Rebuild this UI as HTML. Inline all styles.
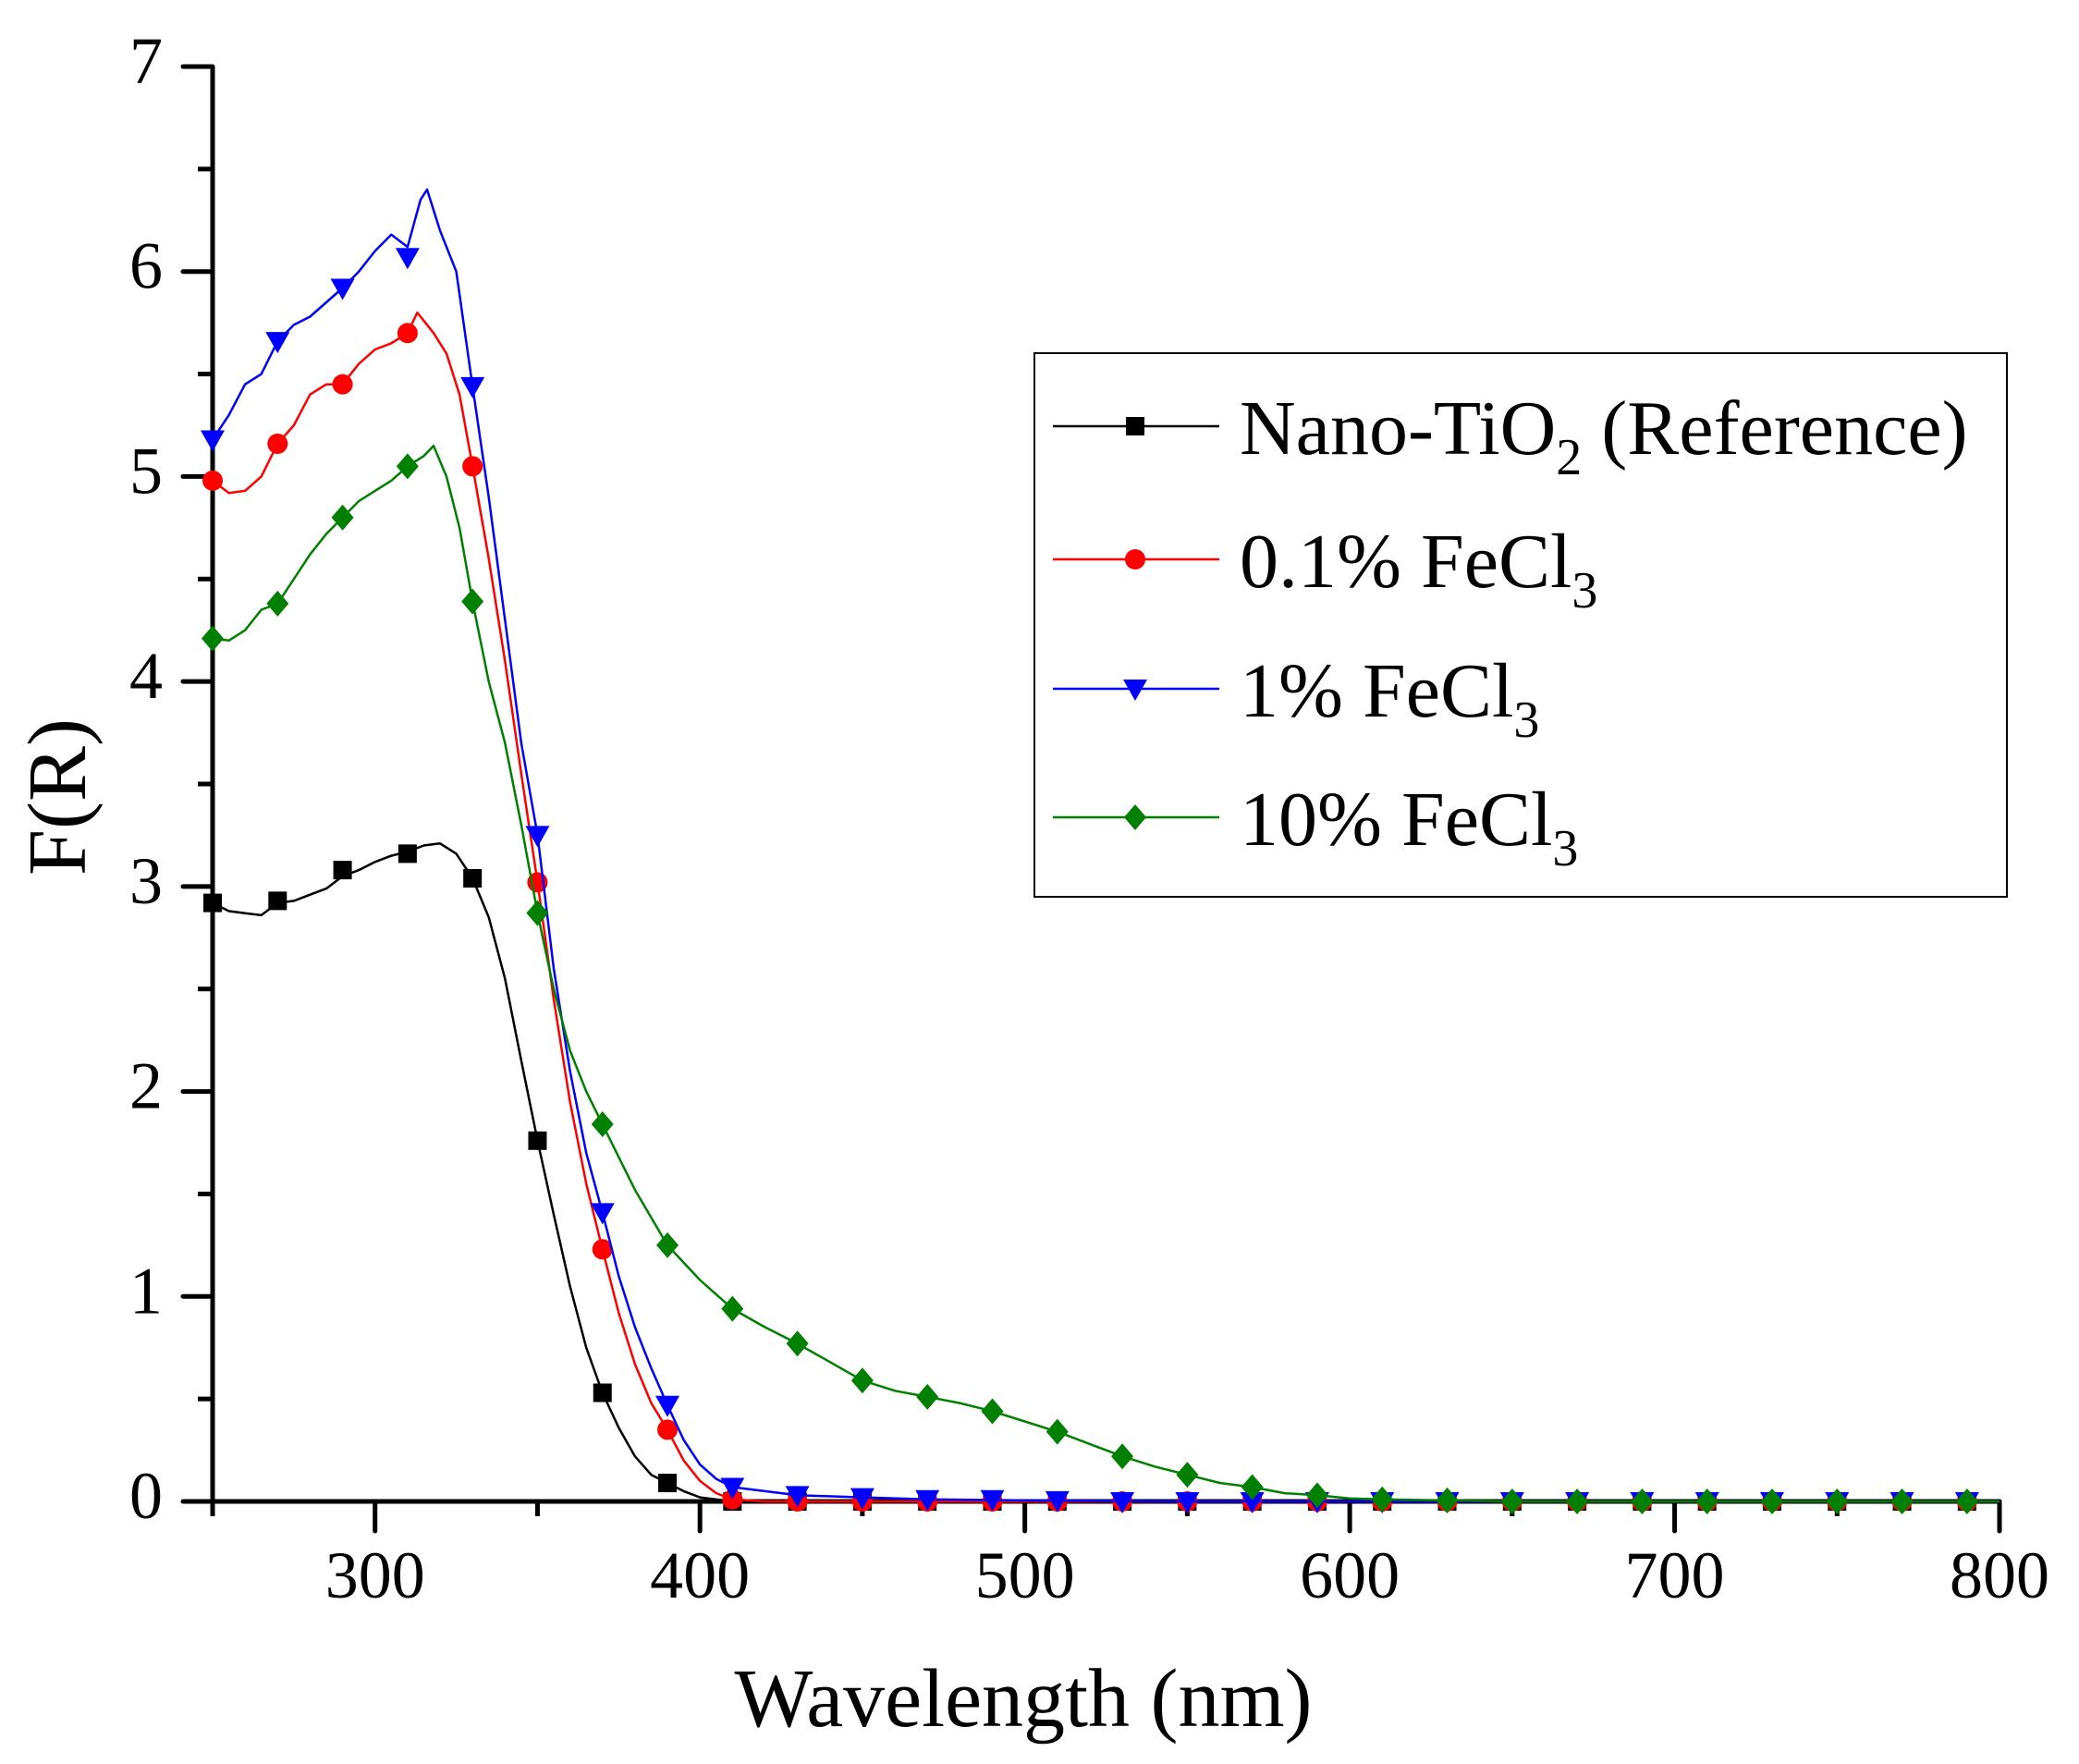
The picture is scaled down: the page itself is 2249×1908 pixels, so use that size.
<!DOCTYPE html>
<html><head><meta charset="utf-8"><style>
html,body{margin:0;padding:0;background:#fff}
svg{display:block}
text{font-family:"Liberation Serif",serif;fill:#000}
</style></head><body>
<svg id="chart" width="2249" height="1908" viewBox="0 0 2249 1908" xmlns="http://www.w3.org/2000/svg">
<g id="axes"></g>
<g id="series"></g>
<g id="legend">
<rect x="1119" y="382" width="1052" height="588" fill="#fff" stroke="#000" stroke-width="2"/>
</g>
<text x="1107" y="1867" font-size="90" text-anchor="middle">Wavelength (nm)</text>
<text transform="translate(92,862) rotate(-90)" font-size="90" text-anchor="middle">F(R)</text>
</svg>
<script>
const xTicks=[300,400,500,600,700,800];
const yTicks=[0,1,2,3,4,5,6,7];
const seriesNames=["Nano-TiO2 (Reference)","0.1% FeCl3","1% FeCl3","10% FeCl3"];
const markerX=[250,270,290,310,330,350,370,390,410,430,450,470,490,510,530,550,570,590,610,630,650,670,690,710,730,750,770,790];
const blackM=[2.92,2.93,3.08,3.16,3.04,1.76,0.53,0.09,0,0,0,0,0,0,0,0,0,0,0,0,0,0,0,0,0,0,0,0];
const redM=[4.98,5.16,5.45,5.70,5.05,3.02,1.23,0.35,0.01,0,0,0,0,0,0,0,0,0,0,0,0,0,0,0,0,0,0,0];
const blueM=[5.18,5.66,5.92,6.07,5.44,3.25,1.41,0.47,0.07,0.03,0.02,0.01,0.01,0.005,0,0,0,0,0,0,0,0,0,0,0,0,0,0];
const greenM=[4.21,4.38,4.80,5.05,4.39,2.87,1.84,1.25,0.94,0.77,0.59,0.51,0.44,0.34,0.22,0.13,0.07,0.03,0.01,0.005,0,0,0,0,0,0,0,0];
const blackLX=[250,255,260,265,270,275,280,285,290,295,300,305,310,315,320,325,330,335,340,345,350,355,360,365,370,375,380,385,390,395,400,410,800];
const blackLY=[2.92,2.88,2.87,2.86,2.92,2.93,2.96,2.99,3.05,3.08,3.12,3.15,3.17,3.20,3.21,3.16,3.04,2.85,2.55,2.15,1.76,1.40,1.05,0.75,0.53,0.36,0.22,0.13,0.09,0.05,0.02,0,0];
const redLX=[250,255,260,265,270,275,280,285,290,295,300,305,310,313,318,322,326,330,335,340,345,350,355,360,365,370,375,380,385,390,395,400,405,410,420,800];
const redLY=[4.98,4.92,4.93,5.00,5.16,5.25,5.40,5.45,5.45,5.55,5.62,5.65,5.70,5.80,5.70,5.60,5.40,5.05,4.60,4.10,3.55,3.02,2.45,1.95,1.55,1.23,0.92,0.67,0.48,0.35,0.20,0.10,0.04,0.01,0,0];
const blueLX=[250,255,260,265,270,275,280,285,290,295,300,305,310,314,316,320,325,330,335,340,345,350,355,360,365,370,375,380,385,390,395,400,405,410,430,450,470,500,550,800];
const blueLY=[5.18,5.30,5.45,5.50,5.66,5.74,5.78,5.85,5.92,6.00,6.10,6.18,6.12,6.35,6.40,6.20,6.00,5.44,4.90,4.30,3.70,3.25,2.60,2.10,1.70,1.41,1.10,0.85,0.65,0.47,0.30,0.18,0.11,0.07,0.03,0.02,0.01,0.005,0,0];
const greenLX=[250,255,260,265,270,275,280,285,290,295,300,305,310,315,318,322,326,330,335,340,345,350,355,360,365,370,380,390,400,410,420,430,440,450,460,470,480,490,500,510,520,530,540,550,560,570,580,590,600,610,630,650,800];
const greenLY=[4.21,4.20,4.25,4.35,4.38,4.50,4.62,4.72,4.80,4.88,4.93,4.98,5.05,5.10,5.15,5.00,4.75,4.39,4.00,3.70,3.30,2.87,2.50,2.20,2.00,1.84,1.52,1.25,1.08,0.94,0.85,0.77,0.68,0.59,0.54,0.51,0.48,0.44,0.39,0.34,0.28,0.22,0.17,0.13,0.09,0.07,0.04,0.03,0.015,0.01,0.005,0,0];

const NS="http://www.w3.org/2000/svg";
const X0=230,X1=2163,Y0=1624,Y1=72;
function xs(v){return X0+(v-250)/(800-250)*(X1-X0);}
function ys(v){return Y0-(v/7)*(Y0-Y1);}
function mk(tag,attrs,parent){const e=document.createElementNS(NS,tag);for(const k in attrs)e.setAttribute(k,attrs[k]);parent.appendChild(e);return e;}
const axes=document.getElementById('axes');
let e;
e=mk('line',{x1:X0,y1:Y0,x2:X1,y2:Y0,stroke:'#000','stroke-width':5,'stroke-linecap':'round'},axes);


e=mk('line',{x1:X0,y1:Y0+16,x2:X0,y2:Y1,stroke:'#000','stroke-width':5},axes);


for(const t of xTicks){
  e=mk('line',{x1:xs(t),y1:Y0,x2:xs(t),y2:Y0+32,stroke:'#000','stroke-width':5,'stroke-linecap':'round'},axes);
  
  
  e=mk('text',{x:xs(t),y:1728,'font-size':72,'text-anchor':'middle'},axes);e.textContent=t;
  
  
  if(t-50>250){e=mk('line',{x1:xs(t-50),y1:Y0,x2:xs(t-50),y2:Y0+16,stroke:'#000','stroke-width':5},axes);
  
  }
}
for(const t of yTicks){
  e=mk('line',{x1:X0-32,y1:ys(t),x2:X0,y2:ys(t),stroke:'#000','stroke-width':5,'stroke-linecap':'round'},axes);
  
  
  e=mk('text',{x:176,y:ys(t)+18,'font-size':72,'text-anchor':'end'},axes);e.textContent=t;
  
  
  if(t<7){e=mk('line',{x1:X0-16,y1:ys(t+0.5),x2:X0,y2:ys(t+0.5),stroke:'#000','stroke-width':5},axes);
  
  }
}
const ser=document.getElementById('series');
const cfg=[
 {c:'#000',lx:blackLX,ly:blackLY,m:blackM,shape:'square',n:'nano-tio2'},
 {c:'#ff0000',lx:redLX,ly:redLY,m:redM,shape:'circle',n:'fecl3-0-1'},
 {c:'#0000ff',lx:blueLX,ly:blueLY,m:blueM,shape:'tri',n:'fecl3-1'},
 {c:'#008000',lx:greenLX,ly:greenLY,m:greenM,shape:'diamond',n:'fecl3-10'}];
function marker(shape,x,y,c,parent){
  let m;
  if(shape==='square')m=mk('rect',{x:x-10,y:y-10,width:20,height:20,fill:c},parent);
  else if(shape==='circle')m=mk('circle',{cx:x,cy:y,r:11,fill:c},parent);
  else if(shape==='tri')m=mk('polygon',{points:`${x-13},${y-10} ${x+13},${y-10} ${x},${y+13}`,fill:c},parent);
  else m=mk('polygon',{points:`${x},${y-14} ${x+12},${y} ${x},${y+14} ${x-12},${y}`,fill:c},parent);
  return m;
}
cfg.forEach((s,i)=>{
  const g=mk('g',{},ser);
  
  
  const pts=s.lx.map((x,j)=>xs(x).toFixed(1)+','+ys(s.ly[j]).toFixed(1)).join(' ');
  e=mk('polyline',{points:pts,fill:'none',stroke:s.c,'stroke-width':2.5,'stroke-linejoin':'round'},g);
  
  
  markerX.forEach((x,j)=>{
    e=marker(s.shape,xs(x),ys(s.m[j]),s.c,g);
    
    
  });
});
const leg=document.getElementById('legend');
const rowY=[461,605,745,884];
const labels=[['Nano-TiO','2',' (Reference)'],['0.1% FeCl','3',''],['1% FeCl','3',''],['10% FeCl','3','']];
cfg.forEach((s,i)=>{
  const g=mk('g',{},leg);
  
  
  mk('line',{x1:1139,y1:rowY[i],x2:1319,y2:rowY[i],stroke:s.c,'stroke-width':2.5},g);
  marker(s.shape,1228,rowY[i],s.c,g);
  const t=mk('text',{x:1341,y:rowY[i]+30,'font-size':84},g);
  const a=mk('tspan',{},t);a.textContent=labels[i][0];
  const b=mk('tspan',{'font-size':56,dy:22},t);b.textContent=labels[i][1];
  if(labels[i][2]){const c=mk('tspan',{dy:-22},t);c.textContent=labels[i][2];}
});
</script>
</body></html>
